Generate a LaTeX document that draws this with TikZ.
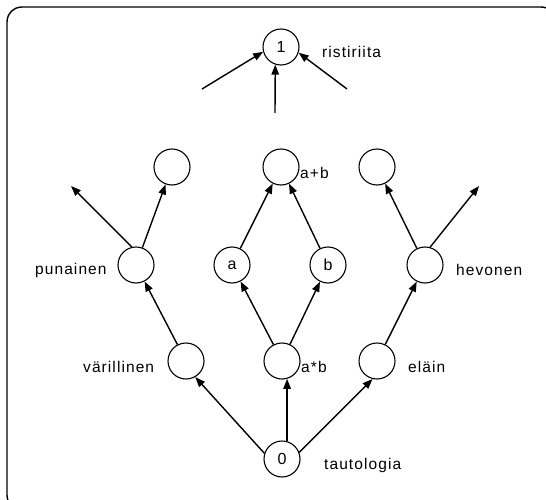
\documentclass[tikz,border=0pt]{standalone}
\usepackage{fontspec}
\setmainfont{Liberation Sans}[LetterSpace=7]
\usetikzlibrary{arrows.meta}
\begin{document}
\begin{tikzpicture}[x=1pt,y=-1pt,
  state/.style={draw,circle,minimum size=36pt,inner sep=0pt,line width=1.1pt,font=\fontsize{16}{16}\selectfont},
  lab/.style={anchor=base west,inner sep=0pt,font=\fontsize{15.5}{16}\selectfont},
  edge/.style={line width=1.4pt,-{Triangle[length=10pt,width=7.5pt]}}]
\useasboundingbox (0,0) rectangle (546,500);
\clip (0,0) rectangle (546,500);
\draw[line width=1.4pt,rounded corners=15pt] (7,7) rectangle (556,510);
% nodes
\node[state] (one) at (281,47) {1};
\node[state] (t1) at (172,167) {};
\node[state] (t2) at (281,167) {};
\node[state] (t3) at (377,167) {};
\node[state] (pun) at (136,265) {};
\node[state] (a) at (232,265) {a};
\node[state] (b) at (328,265) {b};
\node[state] (hev) at (425,265) {};
\node[state] (var) at (186,361) {};
\node[state] (ab) at (282,361) {};
\node[state] (ela) at (377,361) {};
\node[state] (zero) at (282,459) {0};
% labels
\node[lab] (lone) at (322,58) {ristiriita};
\node[lab] (lpun) at (35,274) {punainen};
\node[lab] (lapb) at (300,178) {a+b};
\node[lab] (lhev) at (456,275) {hevonen};
\node[lab] (lvar) at (83,372) {värillinen};
\node[lab] (lab) at (301,372) {a*b};
\node[lab] (lela) at (408,372) {eläin};
\node[lab] (lzero) at (324,469) {tautologia};
% free ends
\coordinate (fl) at (202,89);
\coordinate (fm) at (275,113);
\coordinate (fr) at (347,89);
\coordinate (fpun) at (71,186);
\coordinate (fhev) at (479,186);
% edges
\draw[edge] (fl) -- (one.195);
\draw[edge] (fm) -- (one.252);
\draw[edge] (fr) -- (one.342);
\draw[edge] (pun.103) -- (fpun);
\draw[edge] (pun) -- (t1);
\draw[edge] (a) -- (t2);
\draw[edge] (b) -- (t2);
\draw[edge] (hev) -- (t3);
\draw[edge] (hev.74) -- (fhev);
\draw[edge] (var) -- (pun);
\draw[edge] (ab) -- (a);
\draw[edge] (ab) -- (b);
\draw[edge] (ela) -- (hev);
\draw[edge] (zero.162) -- (var.300);
\draw[edge] (zero.74) -- (ab.286);
\draw[edge] (zero.21) -- (ela.256);
\end{tikzpicture}
\end{document}
